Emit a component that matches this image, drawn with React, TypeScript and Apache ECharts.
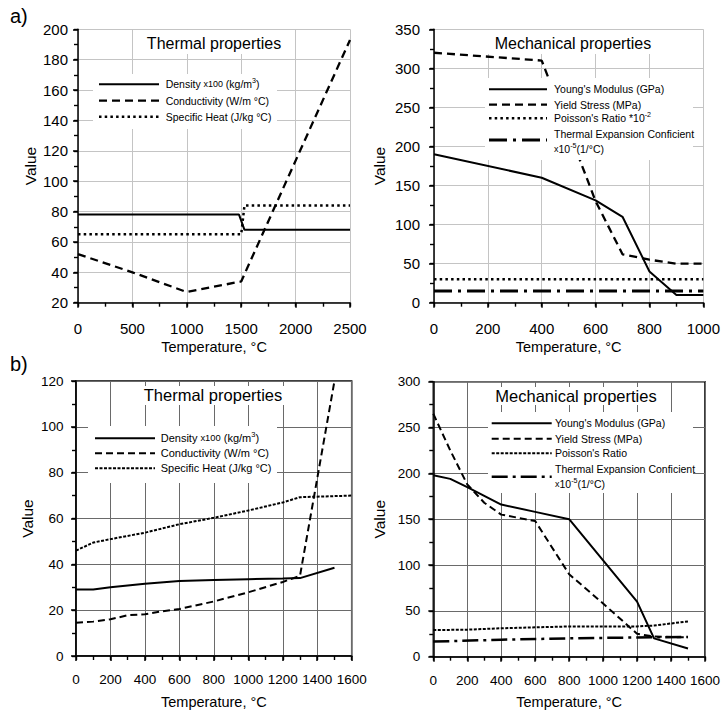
import React, { useEffect, useRef } from 'react';
import * as echarts from 'echarts';

// ---------- a) Thermal properties ----------
const A_TH_DENSITY_T = [0, 1480, 1530, 2500];
const A_TH_DENSITY_V = [78, 78, 68, 68];
const A_TH_COND_T = [0, 500, 1000, 1500, 2500];
const A_TH_COND_V = [52, 40, 27, 34, 193];
const A_TH_SPHEAT_T = [0, 1500, 1530, 2500];
const A_TH_SPHEAT_V = [65, 65, 84, 84];

// ---------- a) Mechanical properties ----------
const A_ME_YOUNG_T = [0, 400, 600, 700, 800, 900, 1000];
const A_ME_YOUNG_V = [190, 160, 131, 110, 40, 10, 10];
const A_ME_YIELD_T = [0, 400, 600, 700, 800, 900, 1000];
const A_ME_YIELD_V = [320, 310, 130, 62, 55, 50, 50];
const A_ME_POISSON_T = [0, 1000];
const A_ME_POISSON_V = [30, 30];
const A_ME_EXP_T = [0, 1000];
const A_ME_EXP_V = [15, 15];

// ---------- b) Thermal properties ----------
const B_TH_DENSITY_T = [0, 100, 200, 400, 600, 800, 1000, 1200, 1300, 1500];
const B_TH_DENSITY_V = [29, 29, 30, 31.5, 32.7, 33.2, 33.5, 33.8, 34, 38.5];
const B_TH_COND_T = [0, 100, 200, 300, 400, 500, 600, 800, 1000, 1200, 1300, 1500];
const B_TH_COND_V = [14.5, 15, 16, 17.8, 18.2, 19.5, 20.5, 23.8, 27.8, 32.3, 35, 120];
const B_TH_SPHEAT_T = [0, 100, 200, 400, 600, 800, 1000, 1200, 1300, 1600];
const B_TH_SPHEAT_V = [46, 49.5, 51, 53.8, 57.5, 60.3, 63.5, 67, 69.3, 70];

// ---------- b) Mechanical properties ----------
const B_ME_YOUNG_T = [0, 100, 200, 400, 600, 800, 1000, 1200, 1300, 1500];
const B_ME_YOUNG_V = [198, 194, 185, 166, 158, 150, 105, 60, 20, 9];
const B_ME_YIELD_T = [0, 100, 200, 300, 400, 600, 800, 1000, 1200, 1300, 1500];
const B_ME_YIELD_V = [265, 225, 188, 168, 155, 148, 90, 58, 25, 22, 21];
const B_ME_POISSON_T = [0, 200, 400, 600, 800, 1000, 1200, 1300, 1500];
const B_ME_POISSON_V = [29, 29.5, 31, 32, 33, 33, 33, 34, 38.5];
const B_ME_EXP_T = [0, 400, 800, 1200, 1500];
const B_ME_EXP_V = [16.5, 18.5, 20, 21, 21.5];

// ---------- texts ----------
const X_NAME = 'Temperature, °C';
const Y_NAME = 'Value';
const TITLE_TH = 'Thermal properties';
const TITLE_ME = 'Mechanical properties';

const FONT = '"Liberation Sans", Arial, Helvetica, sans-serif';

const zip = (t: number[], v: number[]) => t.map((x, i) => [x, v[i]]);

// line styles
const DASH_A = [8, 5];
const DOT_A = [2.5, 3.2];
const DASHDOT_A = [18, 6, 3, 6];
const DASH_B = [7, 4];
const DENSE_B = [3, 1.5];
const DASHDOT_B = [16, 5, 3, 5];

export default function App() {
  const ref = useRef<HTMLDivElement>(null);

  useEffect(() => {
    if (!ref.current) return;
    const chart = echarts.init(ref.current, undefined, { renderer: 'svg' });

    const grids = [
      { left: 78, top: 29.3, width: 272, height: 273.4 },
      { left: 434, top: 29.3, width: 271, height: 273.4 },
      { left: 76, top: 381, width: 275.7, height: 275, show: true, borderColor: '#000', borderWidth: 1.5 },
      { left: 433.3, top: 381.7, width: 276, height: 275, show: true, borderColor: '#000', borderWidth: 1.5 },
    ];

    const fmt = (v: number) => String(v);

    const mkX = (gi: number, min: number, max: number, interval: number, labelSize: number, labelMargin: number, nameGap: number, gridColor: string) => ({
      type: 'value', gridIndex: gi, min, max, interval, position: 'bottom',
      name: X_NAME, nameLocation: 'middle', nameGap,
      nameTextStyle: { fontSize: 14.5, color: '#000', fontFamily: FONT },
      axisLine: { show: true, onZero: false, lineStyle: { color: '#000', width: 1.5 } },
      axisTick: { show: true, length: 5, lineStyle: { color: '#000', width: 1.5 } },
      axisLabel: { fontSize: labelSize, color: '#000', margin: labelMargin, fontFamily: FONT, formatter: fmt },
      splitLine: { show: true, lineStyle: { color: gridColor, width: 1 } },
    });
    const mkY = (gi: number, min: number, max: number, interval: number, labelSize: number, labelMargin: number, nameGap: number, gridColor: string) => ({
      type: 'value', gridIndex: gi, min, max, interval, position: 'left',
      name: Y_NAME, nameLocation: 'middle', nameGap,
      nameTextStyle: { fontSize: 15.5, color: '#000', fontFamily: FONT },
      axisLine: { show: true, onZero: false, lineStyle: { color: '#000', width: 1.5 } },
      axisTick: { show: true, length: 5, lineStyle: { color: '#000', width: 1.5 } },
      axisLabel: { fontSize: labelSize, color: '#000', margin: labelMargin, fontFamily: FONT, formatter: fmt },
      splitLine: { show: true, lineStyle: { color: gridColor, width: 1 } },
    });
    // secondary axes that only carry the minor ticks (half the major interval)
    const mkMinor = (kind: 'x' | 'y', gi: number, min: number, max: number, interval: number) => ({
      type: 'value', gridIndex: gi, min, max, interval,
      position: kind === 'x' ? 'bottom' : 'left',
      axisLine: { show: false, onZero: false },
      axisTick: { show: true, length: 4, lineStyle: { color: '#000', width: 1.4 } },
      axisLabel: { show: false },
      splitLine: { show: false },
    });

    const GA = '#c4c4c4';
    const GB = '#6a6a6a';

    const xAxis = [
      mkX(0, 0, 2500, 500, 15, 18, 37, GA),
      mkX(1, 0, 1000, 200, 15, 18, 37, GA),
      mkX(2, 0, 1600, 200, 13.5, 16.5, 38, GB),
      mkX(3, 0, 1600, 200, 13.5, 16.5, 38, GB),
      mkMinor('x', 0, 0, 2500, 250),
      mkMinor('x', 1, 0, 1000, 100),
      mkMinor('x', 2, 0, 1600, 100),
      mkMinor('x', 3, 0, 1600, 100),
    ];
    const yAxis = [
      mkY(0, 20, 200, 20, 15, 10, 40, GA),
      mkY(1, 0, 350, 50, 15, 14, 47, GA),
      mkY(2, 0, 120, 20, 13.5, 12.5, 41, GB),
      mkY(3, 0, 300, 50, 13.5, 13, 46, GB),
      mkMinor('y', 0, 20, 200, 10),
      mkMinor('y', 1, 0, 350, 25),
      mkMinor('y', 2, 0, 120, 10),
      mkMinor('y', 3, 0, 300, 25),
    ];

    const line = (name: string, gi: number, data: number[][], width: number, dash: any) => ({
      type: 'line', name, xAxisIndex: gi, yAxisIndex: gi, data,
      symbol: 'none', showSymbol: false, silent: true, z: 3,
      lineStyle: { color: '#000', width, type: dash },
    });

    const series = [
      line('Density x100 (kg/m3)', 0, zip(A_TH_DENSITY_T, A_TH_DENSITY_V), 2, 'solid'),
      line('Conductivity (W/m °C)', 0, zip(A_TH_COND_T, A_TH_COND_V), 2.3, DASH_A),
      line('Specific Heat (J/kg °C)', 0, zip(A_TH_SPHEAT_T, A_TH_SPHEAT_V), 2.5, DOT_A),
      line("Young's Modulus (GPa)", 1, zip(A_ME_YOUNG_T, A_ME_YOUNG_V), 2, 'solid'),
      line('Yield Stress (MPa)', 1, zip(A_ME_YIELD_T, A_ME_YIELD_V), 2.3, DASH_A),
      line("Poisson's Ratio *10-2", 1, zip(A_ME_POISSON_T, A_ME_POISSON_V), 2.5, DOT_A),
      line('Thermal Expansion Conficient x10-5(1/°C)', 1, zip(A_ME_EXP_T, A_ME_EXP_V), 3, DASHDOT_A),
      line('Density x100 (kg/m3) b', 2, zip(B_TH_DENSITY_T, B_TH_DENSITY_V), 2, 'solid'),
      line('Conductivity (W/m °C) b', 2, zip(B_TH_COND_T, B_TH_COND_V), 2, DASH_B),
      line('Specific Heat (J/kg °C) b', 2, zip(B_TH_SPHEAT_T, B_TH_SPHEAT_V), 2, DENSE_B),
      line("Young's Modulus (GPa) b", 3, zip(B_ME_YOUNG_T, B_ME_YOUNG_V), 2, 'solid'),
      line('Yield Stress (MPa) b', 3, zip(B_ME_YIELD_T, B_ME_YIELD_V), 2, DASH_B),
      line("Poisson's Ratio b", 3, zip(B_ME_POISSON_T, B_ME_POISSON_V), 2, DENSE_B),
      line('Thermal Expansion Conficient b', 3, zip(B_ME_EXP_T, B_ME_EXP_V), 2.5, DASHDOT_B),
    ];

    const rect = (x: number, y: number, w: number, h: number) => ({
      type: 'rect', shape: { x, y, width: w, height: h }, style: { fill: '#fff' }, z: 50, silent: true,
    });
    const sample = (x1: number, x2: number, y: number, width: number, dash: any) => ({
      type: 'line', shape: { x1, y1: y, x2, y2: y }, z: 51, silent: true,
      style: { stroke: '#000', lineWidth: width, lineDash: dash === 'solid' ? null : dash },
    });
    const rich = (size: number) => ({
      sup: { fontSize: size * 0.68, fontFamily: FONT, fill: '#000', verticalAlign: 'top', lineHeight: size + 3 },
      sm: { fontSize: size * 0.85, fontFamily: FONT, fill: '#000', lineHeight: size + 3 },
    });
    const text = (x: number, y: number, t: string, size: number, align = 'left') => ({
      type: 'text', x, y, z: 52, silent: true,
      style: {
        text: t, fontSize: size, fontFamily: FONT, fill: '#000',
        align, verticalAlign: 'middle', textAlign: align, textVerticalAlign: 'middle',
        lineHeight: size + 3, rich: rich(size),
      },
    });

    const graphic = [
      // panel labels
      text(10, 16, 'a)', 20),
      text(10, 364, 'b)', 20),

      // a-left title & legend
      rect(143, 30, 143, 24),
      text(214, 43, TITLE_TH, 16, 'center'),
      rect(93, 74, 184, 55),
      sample(99, 159, 84.3, 2, 'solid'),
      sample(99, 159, 100.7, 2.3, DASH_A),
      sample(99, 159, 116.7, 2.5, DOT_A),
      text(165.7, 84.3, 'Density {sm|x100} (kg/m{sup|3})', 10.5),
      text(165.7, 100.7, 'Conductivity (W/m °C)', 10.5),
      text(165.7, 116.7, 'Specific Heat (J/kg °C)', 10.5),

      // a-right title & legend
      rect(488, 30, 172, 24),
      text(573, 43, TITLE_ME, 16, 'center'),
      rect(485, 78, 208, 82),
      sample(489, 547, 89.3, 2, 'solid'),
      sample(489, 547, 104.7, 2.3, DASH_A),
      sample(489, 547, 118.3, 2.5, DOT_A),
      sample(489, 547, 140, 3, DASHDOT_A),
      text(554, 89.3, "Young's Modulus (GPa)", 10.5),
      text(554, 104.7, 'Yield Stress (MPa)', 10.5),
      text(554, 118.3, "Poisson's Ratio *10{sup|-2}", 10.5),
      text(554, 134.3, 'Thermal Expansion Conficient', 10.5),
      text(554, 149, '{sm|x}10{sup|-5}(1/°C)', 10.5),

      // b-left title & legend
      rect(140, 386, 147, 19),
      text(213, 395, TITLE_TH, 16.5, 'center'),
      rect(88, 426, 189, 57),
      sample(95, 155, 438.3, 2, 'solid'),
      sample(95, 155, 453.3, 2, DASH_B),
      sample(95, 155, 468.3, 2, DENSE_B),
      text(160.7, 438.3, 'Density {sm|x100} (kg/m{sup|3})', 11),
      text(160.7, 453.3, 'Conductivity (W/m °C)', 11),
      text(160.7, 468.3, 'Specific Heat (J/kg °C)', 11),

      // b-right title & legend
      rect(492, 387, 169, 18),
      text(576, 396, TITLE_ME, 16.5, 'center'),
      rect(488, 412, 205, 81),
      sample(491.7, 551.7, 423.3, 2, 'solid'),
      sample(491.7, 551.7, 438.7, 2, DASH_B),
      sample(491.7, 551.7, 453.3, 2, DENSE_B),
      sample(491.7, 551.7, 476.7, 2.5, DASHDOT_B),
      text(555, 423.3, "Young's Modulus (GPa)", 10.5),
      text(555, 438.7, 'Yield Stress (MPa)', 10.5),
      text(555, 453.3, "Poisson's Ratio", 10.5),
      text(555, 469.3, 'Thermal Expansion Conficient', 10.5),
      text(555, 484, '{sm|x}10{sup|-5}(1/°C)', 10.5),
    ];

    chart.setOption({
      animation: false,
      backgroundColor: '#fff',
      grid: grids,
      xAxis,
      yAxis,
      series,
      graphic,
    } as any);

    return () => chart.dispose();
  }, []);

  return (
    <div
      ref={ref}
      style={{ position: 'fixed', left: 0, top: 0, width: 723, height: 713, background: '#fff' }}
    />
  );
}
